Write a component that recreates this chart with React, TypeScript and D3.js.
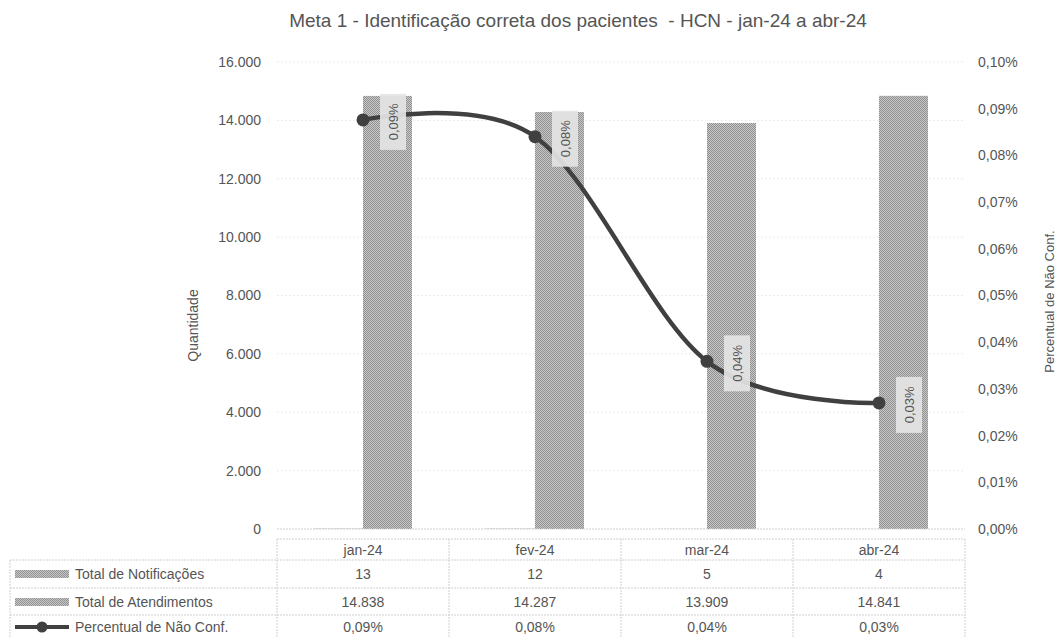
import * as d3 from "d3";

const categories = ["jan-24", "fev-24", "mar-24", "abr-24"];
const notificacoes = [13, 12, 5, 4];
const atendimentos = [14838, 14287, 13909, 14841];
// percent values (already in %), table shows them rounded
const percentual = [0.0876, 0.084, 0.0359, 0.027];
const leftTicks = [0, 2000, 4000, 6000, 8000, 10000, 12000, 14000, 16000];
const rightTicks = [0, 0.01, 0.02, 0.03, 0.04, 0.05, 0.06, 0.07, 0.08, 0.09, 0.1];

const W = 1060;
const H = 638;
const font = "'Liberation Sans', Arial, sans-serif";
const textColor = "#555";
const lineColor = "#404040";

const fmtInt = (v: number) => d3.format(",")(v).replace(/,/g, ".");
const fmtPct = (v: number) => v.toFixed(2).replace(".", ",") + "%";

export default function App() {
  const plot = { left: 277, right: 965, top: 62, bottom: 529 };

  const x = d3
    .scaleBand<string>()
    .domain(categories)
    .range([plot.left, plot.right]);
  const barW = 49;

  const yL = d3.scaleLinear().domain([0, 16000]).range([plot.bottom, plot.top]);
  const yR = d3.scaleLinear().domain([0, 0.1]).range([plot.bottom, plot.top]);

  const cx = (c: string) => (x(c) ?? 0) + x.bandwidth() / 2;

  const linePath =
    d3
      .line<number>()
      .x((_, i) => cx(categories[i]))
      .y((d) => yR(d))
      .curve(d3.curveCardinal.tension(0))(percentual) ?? "";

  const tableTop = 539;
  const rowLines = [560, 588, 615];
  const rowY = [574, 602, 627];
  const tableLeft = 10;

  return (
    <div style={{ position: "absolute", left: 0, top: 0 }}>
      <svg width={W} height={H} style={{ display: "block", background: "#fff" }}>
        <defs>
          <pattern id="dots" width="2" height="2" patternUnits="userSpaceOnUse">
            <rect width="2" height="2" fill="#c8c8c8" />
            <rect width="1" height="1" fill="#909090" />
            <rect x="1" y="1" width="1" height="1" fill="#909090" />
          </pattern>
        </defs>

        <text
          x={578}
          y={27}
          textAnchor="middle"
          fontFamily={font}
          fontSize={19}
          fill={textColor}
          style={{ whiteSpace: "pre" }}
        >
          {"Meta 1 - Identificação correta dos pacientes  - HCN - jan-24 a abr-24"}
        </text>

        {/* gridlines */}
        {leftTicks.slice(1).map((t) => (
          <line
            key={"g" + t}
            x1={plot.left}
            x2={plot.right}
            y1={yL(t)}
            y2={yL(t)}
            stroke="#ebebeb"
            strokeDasharray="2 2"
          />
        ))}

        {/* left axis labels */}
        {leftTicks.map((t) => (
          <text
            key={"l" + t}
            x={261}
            y={yL(t)}
            dy="0.35em"
            textAnchor="end"
            fontFamily={font}
            fontSize={14}
            fill={textColor}
          >
            {fmtInt(t)}
          </text>
        ))}
        <text
          transform={`translate(193,${(plot.top + plot.bottom) / 2 + 30}) rotate(-90)`}
          textAnchor="middle"
          dy="0.35em"
          fontFamily={font}
          fontSize={14}
          fill={textColor}
        >
          Quantidade
        </text>

        {/* right axis labels */}
        {rightTicks.map((t) => (
          <text
            key={"r" + t}
            x={978}
            y={yR(t)}
            dy="0.35em"
            fontFamily={font}
            fontSize={14}
            fill={textColor}
          >
            {fmtPct(t)}
          </text>
        ))}
        <text
          transform={`translate(1049,${(plot.top + plot.bottom) / 2 + 6}) rotate(-90)`}
          textAnchor="middle"
          dy="0.35em"
          fontFamily={font}
          fontSize={13}
          fill={textColor}
        >
          Percentual de Não Conf.
        </text>

        {/* bars: clustered, notificações left, atendimentos right */}
        {categories.map((c, i) => (
          <g key={"b" + c}>
            <rect
              x={cx(c) - barW}
              y={yL(notificacoes[i])}
              width={barW}
              height={plot.bottom - yL(notificacoes[i])}
              fill="url(#dots)"
            />
            <rect
              x={cx(c)}
              y={yL(atendimentos[i])}
              width={barW}
              height={plot.bottom - yL(atendimentos[i])}
              fill="url(#dots)"
            />
          </g>
        ))}

        {/* baseline */}
        <line
          x1={plot.left}
          x2={plot.right}
          y1={plot.bottom}
          y2={plot.bottom}
          stroke="#cfcfcf"
          strokeDasharray="2 1"
        />

        {/* line series */}
        <path d={linePath} fill="none" stroke={lineColor} strokeWidth={4.5} />
        {percentual.map((p, i) => (
          <circle key={"m" + i} cx={cx(categories[i])} cy={yR(p)} r={6.5} fill={lineColor} />
        ))}

        {/* data labels */}
        {percentual.map((p, i) => {
          const lx = cx(categories[i]) + 30;
          const ly = yR(p) + 2;
          return (
            <g key={"dl" + i} transform={`translate(${lx},${ly})`}>
              <rect x={-13} y={-28} width={26} height={56} fill="#e4e4e4" opacity={0.92} />
              <text
                transform="rotate(-90)"
                textAnchor="middle"
                dy="0.35em"
                fontFamily={font}
                fontSize={13}
                fill={textColor}
              >
                {fmtPct(p)}
              </text>
            </g>
          );
        })}

        {/* data table */}
        <g stroke="#d0d0d0" strokeDasharray="2 1" fill="none">
          <line x1={plot.left} x2={plot.right} y1={tableTop} y2={tableTop} />
          {rowLines.map((yy) => (
            <line key={"rl" + yy} x1={tableLeft} x2={plot.right} y1={yy} y2={yy} />
          ))}
          <line x1={tableLeft} x2={tableLeft} y1={rowLines[0]} y2={H} />
          {categories.map((c) => (
            <line key={"vl" + c} x1={x(c)} x2={x(c)} y1={tableTop} y2={H} />
          ))}
          <line x1={plot.right} x2={plot.right} y1={tableTop} y2={H} />
        </g>

        {categories.map((c, i) => (
          <g
            key={"t" + c}
            fontFamily={font}
            fontSize={14}
            fill={textColor}
            textAnchor="middle"
          >
            <text x={cx(c)} y={550} dy="0.35em">
              {c}
            </text>
            <text x={cx(c)} y={rowY[0]} dy="0.35em">
              {notificacoes[i]}
            </text>
            <text x={cx(c)} y={rowY[1]} dy="0.35em">
              {fmtInt(atendimentos[i])}
            </text>
            <text x={cx(c)} y={rowY[2]} dy="0.35em">
              {fmtPct(percentual[i])}
            </text>
          </g>
        ))}

        {/* row headers with legend keys */}
        <rect x={15} y={rowY[0] - 4} width={54} height={8} fill="url(#dots)" />
        <rect x={15} y={rowY[1] - 4} width={54} height={8} fill="url(#dots)" />
        <line x1={15} x2={69} y1={rowY[2]} y2={rowY[2]} stroke={lineColor} strokeWidth={4} />
        <circle cx={42} cy={rowY[2]} r={5.5} fill={lineColor} />
        {["Total de Notificações", "Total de Atendimentos", "Percentual de Não Conf."].map(
          (s, i) => (
            <text
              key={"rh" + i}
              x={75}
              y={rowY[i]}
              dy="0.35em"
              fontFamily={font}
              fontSize={14}
              fill={textColor}
            >
              {s}
            </text>
          )
        )}
      </svg>
    </div>
  );
}
